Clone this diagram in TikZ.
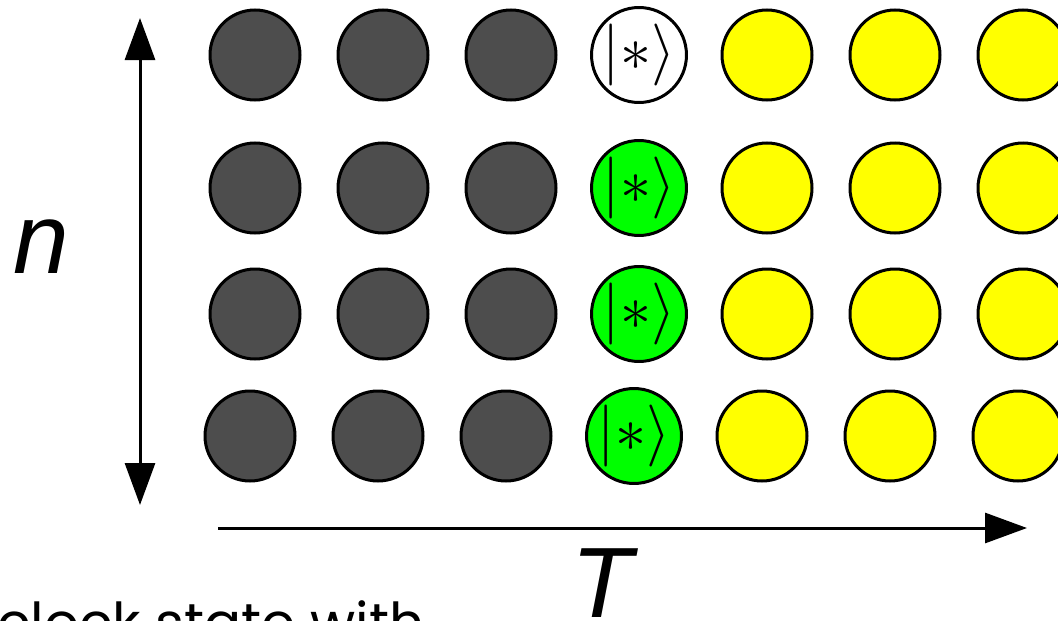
\documentclass[tikz,border=0pt]{standalone}
\usepackage{fix-cm}
\usepackage{fontspec}
\setmainfont{Liberation Sans}
\newfontfamily\roundfont{Poppins}
\usetikzlibrary{arrows.meta}
\definecolor{Past}{HTML}{4D4D4D}
\definecolor{Now}{HTML}{00FF00}
\definecolor{Future}{HTML}{FFFF00}
\tikzset{dot/.style={circle,draw=black,line width=3pt,minimum size=90pt,inner sep=0pt},past/.style={dot,fill=Past},now/.style={dot,fill=Now,font=\fontsize{62}{68}\selectfont},future/.style={dot,fill=Future},axis/.style={-{Triangle[length=42pt,width=30pt]},line width=3pt},big/.style={inner sep=0pt,font=\fontsize{100}{110}\selectfont\itshape}}

\begin{document}
\begin{tikzpicture}[x=1pt,y=-1pt]
      \useasboundingbox (0,0) rectangle (1058,621);
      % grid of clocks: rows 1-3, then the bottom row sits a bit to the left
      \foreach \r/\y/\x in {1/55/255,2/188/255,3/314/255,4/436/250}{
        \foreach \c in {1,2,3}{\node[past](c\r\c) at ({\x+128*(\c-1)},\y){};}
        \foreach \c in {5,6,7}{\node[future](c\r\c) at ({\x+128*(\c-1)},\y){};}
      }
      \node[now,fill=white](c14) at (639,55){$|\ast\rangle$};
      \node[now](c24) at (639,188){$|\ast\rangle$};
      \node[now](c34) at (639,314){$|\ast\rangle$};
      \node[now](c44) at (634,436){$|\ast\rangle$};
      % axes
      \coordinate (ntop) at (140,18);\coordinate (nbot) at (140,505);
      \coordinate (tleft) at (218,528);\coordinate (tright) at (1027,528);
      \draw[axis,{Triangle[length=42pt,width=30pt]}-{Triangle[length=42pt,width=30pt]}](nbot)--(ntop);
      \draw[axis](tleft)--(tright);
      \node[big,anchor=base](nlabel) at (41,273){n};
      \node[big,anchor=north](tlabel) at (602,548){T};
      \node[inner sep=0pt,anchor=north west,font=\roundfont\fontsize{55}{60}\selectfont](caption) at (-3,600){clock state with};
    \end{tikzpicture}
\end{document}
